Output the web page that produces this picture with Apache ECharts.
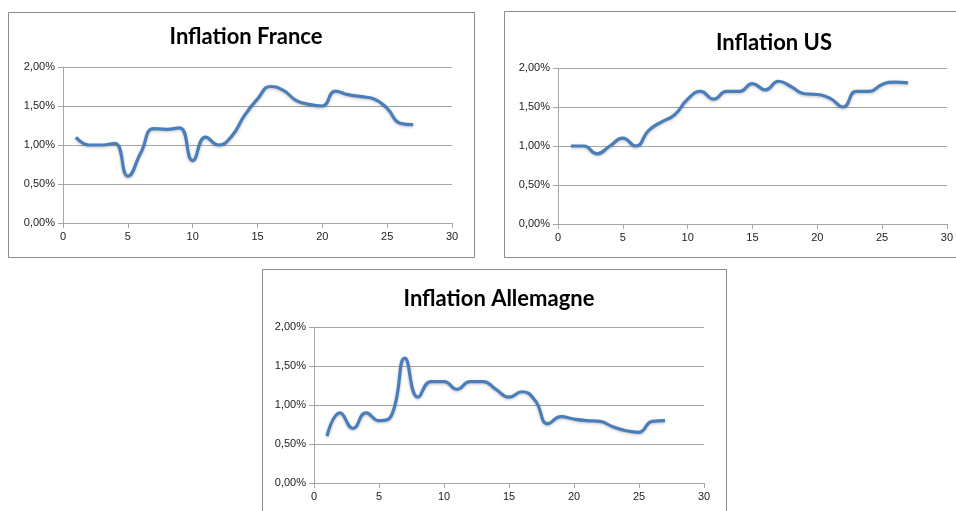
<!DOCTYPE html>
<html lang="fr">
<head>
    <meta charset="UTF-8">
    <title>Inflation</title>
    <script src="https://cdn.jsdelivr.net/npm/echarts@6/dist/echarts.min.js"></script>
    <style>
        html, body { margin: 0; padding: 0; background: #fff; }
        #chart { width: 956px; height: 511px; }
    </style>
</head>
<body>
    <div id="chart"></div>
    <script>
    // mois 1..27
    var months = [1,2,3,4,5,6,7,8,9,10,11,12,13,14,15,16,17,18,19,20,21,22,23,24,25,26,27];
    var xTicks = [0, 5, 10, 15, 20, 25, 30];
    var yTicks = [0, 0.5, 1, 1.5, 2];

    // inflation en %
    var france = [1.10,1.00,1.00,1.02,0.60,0.90,1.21,1.20,1.22,0.80,1.10,1.00,1.11,1.38,1.59,1.75,1.70,1.57,1.52,1.50,1.69,1.645,1.62,1.59,1.47,1.28,1.26];
    var us = [1.00,1.00,0.90,1.00,1.10,1.00,1.20,1.31,1.40,1.60,1.70,1.60,1.70,1.70,1.80,1.72,1.83,1.76,1.67,1.66,1.61,1.50,1.70,1.70,1.79,1.82,1.81];
    var allemagne = [0.60,0.90,0.70,0.90,0.80,0.88,1.60,1.10,1.30,1.30,1.20,1.30,1.30,1.20,1.10,1.17,1.06,0.76,0.85,0.82,0.80,0.79,0.72,0.67,0.65,0.79,0.80];

    var titles = ['Inflation France', 'Inflation US', 'Inflation Allemagne'];
    var seriesData = [france, us, allemagne];

    // panneaux: cadre + zone de tracé
    var panels = [
        { box: [8, 12, 466, 245], grid: { left: 63, top: 67, width: 389, height: 156 }, title: [241, 21] },
        { box: [504, 11, 470, 246], grid: { left: 558, top: 68, width: 389, height: 156 }, title: [769, 27] },
        { box: [262, 269, 464, 260], grid: { left: 314, top: 327, width: 390, height: 156 }, title: [494, 283] }
    ];

    var gridColor = '#a6a6a6';
    var lineColor = '#4a7ebb';

    var chart = echarts.init(document.getElementById('chart'));

    var option = {
        animation: false,
        backgroundColor: '#fff',
        title: [],
        grid: [],
        xAxis: [],
        yAxis: [],
        series: [],
        graphic: []
    };

    panels.forEach(function (p, i) {
        option.graphic.push({
            type: 'rect',
            z: -10,
            shape: { x: p.box[0] + 0.5, y: p.box[1] + 0.5, width: p.box[2], height: p.box[3] },
            style: { fill: '#fff', stroke: '#8c8c8c', lineWidth: 1 }
        });
        option.title.push({
            text: titles[i],
            left: p.title[0],
            top: p.title[1],
            textAlign: 'center',
            textStyle: { fontFamily: 'Lato', fontWeight: 'bold', fontSize: 22, color: '#000' }
        });
        option.grid.push({
            left: p.grid.left, top: p.grid.top, width: p.grid.width, height: p.grid.height,
            containLabel: false
        });
        option.xAxis.push({
            type: 'value',
            gridIndex: i,
            min: xTicks[0],
            max: xTicks[xTicks.length - 1],
            interval: 5,
            splitLine: { show: false },
            axisLine: { show: true, lineStyle: { color: gridColor, width: 1 } },
            axisTick: { show: true, inside: false, length: 5, lineStyle: { color: gridColor } },
            axisLabel: { color: '#222', fontSize: 11, fontFamily: 'Liberation Sans', margin: 8 }
        });
        option.yAxis.push({
            type: 'value',
            gridIndex: i,
            min: yTicks[0],
            max: yTicks[yTicks.length - 1],
            interval: 0.5,
            splitLine: { show: true, lineStyle: { color: gridColor, width: 1 } },
            axisLine: { show: true, lineStyle: { color: gridColor, width: 1 } },
            axisTick: { show: true, inside: false, length: 5, lineStyle: { color: gridColor } },
            axisLabel: {
                color: '#222', fontSize: 11, fontFamily: 'Liberation Sans', margin: 8,
                formatter: function (v) { return v.toFixed(2).replace('.', ',') + '%'; }
            }
        });
        option.series.push({
            type: 'line',
            xAxisIndex: i,
            yAxisIndex: i,
            smooth: 0.5,
            showSymbol: false,
            data: months.map(function (m, k) { return [m, seriesData[i][k]]; }),
            lineStyle: {
                color: lineColor, width: 3.2,
                shadowColor: 'rgba(0,0,0,0.25)', shadowBlur: 3, shadowOffsetY: 1
            }
        });
    });

    chart.setOption(option);
    </script>
</body>
</html>
